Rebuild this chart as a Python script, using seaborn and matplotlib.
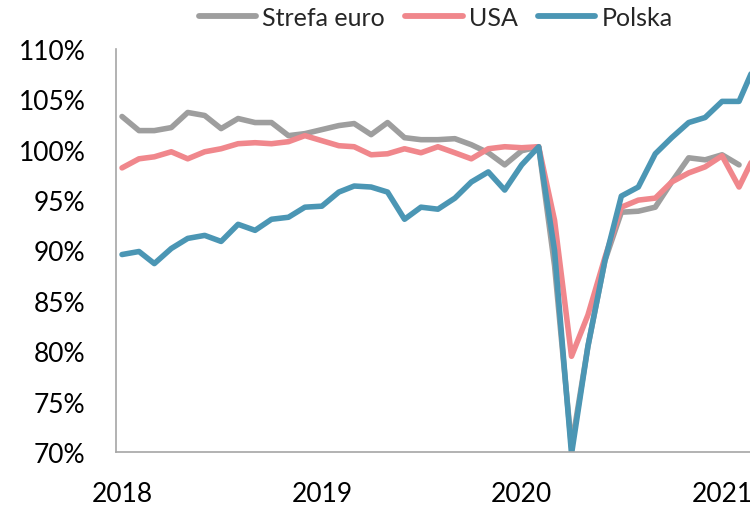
import numpy as np
import pandas as pd
import matplotlib
matplotlib.use('Agg')
import matplotlib.pyplot as plt
import matplotlib.dates as mdates
from matplotlib.ticker import PercentFormatter
import seaborn as sns

# monthly index, Feb 2020 = 100
months = pd.date_range('2018-01-01', '2021-03-01', freq='MS')

strefa_euro = [103.3, 101.9, 101.9, 102.2, 103.7, 103.4, 102.1, 103.1, 102.7, 102.7,
               101.4, 101.6, 102.0, 102.4, 102.6, 101.5, 102.7, 101.2, 101.0, 101.0,
               101.1, 100.5, 99.7, 98.5, 99.9, 100.3, 88.5, 70.5, 80.5, 89.0,
               93.8, 93.9, 94.3, 96.8, 99.2, 99.0, 99.5, 98.5, np.nan]
usa = [98.2, 99.1, 99.3, 99.8, 99.1, 99.8, 100.1, 100.6, 100.7, 100.6,
       100.8, 101.4, 100.9, 100.4, 100.3, 99.5, 99.6, 100.1, 99.7, 100.3,
       99.7, 99.1, 100.1, 100.3, 100.2, 100.3, 93.0, 79.5, 83.6, 89.3,
       94.3, 95.0, 95.2, 96.8, 97.7, 98.3, 99.4, 96.3, 99.4]
polska = [89.6, 89.9, 88.7, 90.2, 91.2, 91.5, 90.9, 92.6, 92.0, 93.1,
          93.3, 94.3, 94.4, 95.8, 96.4, 96.3, 95.8, 93.1, 94.3, 94.1,
          95.2, 96.8, 97.8, 96.0, 98.5, 100.3, 90.0, 69.8, 80.5, 89.0,
          95.4, 96.3, 99.6, 101.2, 102.7, 103.2, 104.8, 104.8, 108.3]

series_names = ['Strefa euro', 'USA', 'Polska']
colors = ['#9E9E9E', '#F0878C', '#4B96B4']

df = pd.DataFrame({'data': months, 'Strefa euro': strefa_euro, 'USA': usa, 'Polska': polska})
df = df.melt(id_vars='data', var_name='seria', value_name='wartosc').dropna()

sns.set_style('white')
plt.rcParams['font.family'] = ['Lato', 'DejaVu Sans']

fig = plt.figure(figsize=(7.5, 5.06), dpi=100)
ax = fig.add_axes([116 / 750, 1 - 453 / 506, 1 - 116 / 750, (453 - 50) / 506])

sns.lineplot(data=df, x='data', y='wartosc', hue='seria', hue_order=series_names,
             palette=colors, linewidth=4.0, ax=ax, legend=False,
             solid_joinstyle='round', solid_capstyle='round')

ax.set_ylim(70, 110)
ax.set_yticks(range(70, 111, 5))
ax.yaxis.set_major_formatter(PercentFormatter(decimals=0))
ax.set_xlim(pd.Timestamp('2017-12-21'), pd.Timestamp('2021-02-21'))
ax.xaxis.set_major_locator(mdates.YearLocator())
ax.xaxis.set_major_formatter(mdates.DateFormatter('%Y'))
ax.set_xlabel('')
ax.set_ylabel('')
ax.tick_params(axis='both', length=0, labelsize=19, colors='black')
ax.tick_params(axis='y', pad=22)
ax.tick_params(axis='x', pad=21)

for side in ['top', 'right']:
    ax.spines[side].set_visible(False)
for side in ['left', 'bottom']:
    ax.spines[side].set_color('#A6A6A6')
    ax.spines[side].set_linewidth(1.2)

handles = [plt.Line2D([], [], color=c, linewidth=4.2, solid_capstyle='round') for c in colors]
fig.legend(handles, series_names, loc='center', bbox_to_anchor=(0.581, 0.964), ncol=3,
           frameon=False, fontsize=18, handlelength=2.3, handletextpad=0.25,
           columnspacing=0.8)

fig.savefig('out.png', dpi=100)
